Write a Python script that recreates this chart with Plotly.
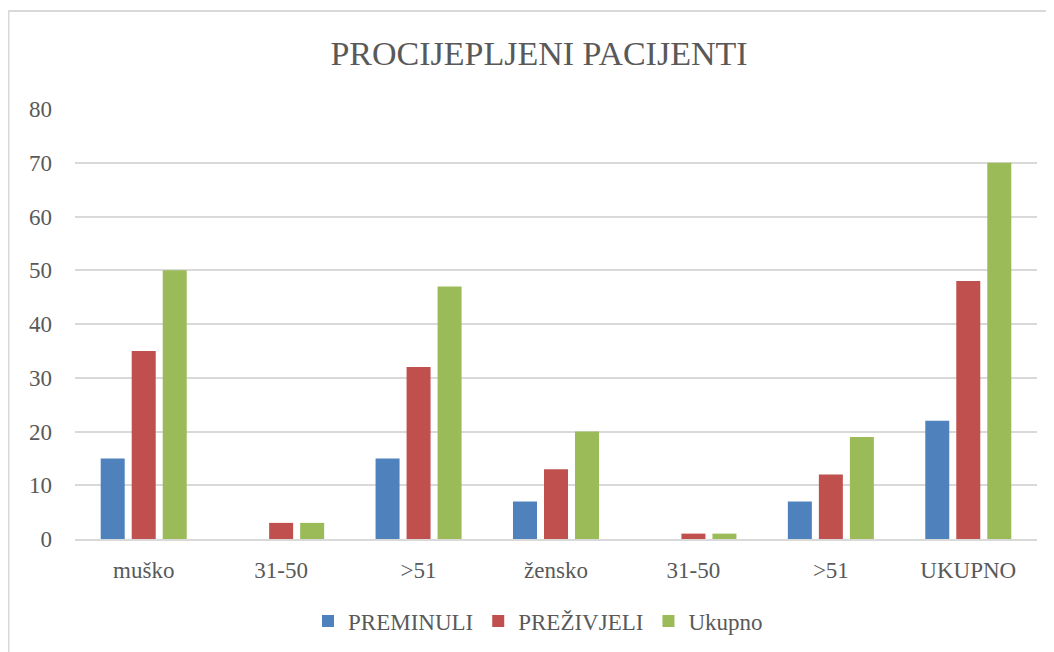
import plotly.graph_objects as go

categories = ["muško", "31-50", ">51", "žensko", "31-50", ">51", "UKUPNO"]
preminuli = [15, 0, 15, 7, 0, 7, 22]
prezivjeli = [35, 3, 32, 13, 1, 12, 48]
ukupno = [50, 3, 47, 20, 1, 19, 70]
y_ticks = [0, 10, 20, 30, 40, 50, 60, 70, 80]

FONT = "Liberation Serif"
TXT = "#595959"
x_pos = list(range(len(categories)))

fig = go.Figure()
fig.add_trace(go.Bar(x=x_pos, y=preminuli, name="PREMINULI", marker=dict(color="#4F81BD", line=dict(width=0))))
fig.add_trace(go.Bar(x=x_pos, y=prezivjeli, name="PREŽIVJELI", marker=dict(color="#C0504D", line=dict(width=0))))
fig.add_trace(go.Bar(x=x_pos, y=ukupno, name="Ukupno", marker=dict(color="#9BBB59", line=dict(width=0))))

# page has an 8px body margin; work in page coordinates and convert
OFF = 8
W, H = 1054 - OFF, 652 - OFF
PL, PR, PT, PB = 75, 1037, 109, 539  # plot area in page pixels
L, R, T, B = PL - OFF, W - (PR - OFF), PT - OFF, H - (PB - OFF)
pw, ph = W - L - R, H - T - B

def px_x(x):  # page px -> paper
    return (x - PL) / pw

def px_y(y):
    return (PB - y) / ph

fig.update_layout(
    width=W, height=H,
    margin=dict(l=L, r=R, t=T, b=B, pad=0, autoexpand=False),
    paper_bgcolor="white", plot_bgcolor="white",
    font=dict(family=FONT, color=TXT, size=23),
    barmode="group", bargap=0.323, bargroupgap=0.226,
    title=dict(text="PROCIJEPLJENI PACIJENTI", x=(539 - OFF) / W, xanchor="center",
               y=1 - (53 - OFF) / H, yanchor="middle",
               font=dict(family=FONT, size=34, color=TXT)),
    xaxis=dict(tickmode="array", tickvals=x_pos, ticktext=categories,
               range=[-0.5, len(categories) - 0.5], showgrid=False,
               showline=True, linecolor="#D9D9D9", linewidth=2,
               ticks="", ticklabelstandoff=9, zeroline=False, automargin=False,
               tickfont=dict(size=23, color=TXT, family=FONT)),
    yaxis=dict(range=[0, 80], tickmode="array", tickvals=y_ticks,
               showgrid=True, gridcolor="#D9D9D9", gridwidth=2,
               zeroline=False, showline=False, ticks="", automargin=False,
               ticklabelstandoff=22,
               tickfont=dict(size=23, color=TXT, family=FONT)),
    legend=dict(orientation="h", x=px_x(538), xanchor="center",
                y=px_y(621), yanchor="middle",
                font=dict(size=23, color=TXT, family=FONT),
                itemwidth=30, traceorder="normal"),
    shapes=[dict(type="rect", xref="paper", yref="paper",
                 x0=px_x(8.5), x1=px_x(1075), y0=px_y(675), y1=px_y(11),
                 line=dict(color="#D9D9D9", width=2), fillcolor="rgba(0,0,0,0)",
                 layer="below")],
)

fig.write_html("out.html")
